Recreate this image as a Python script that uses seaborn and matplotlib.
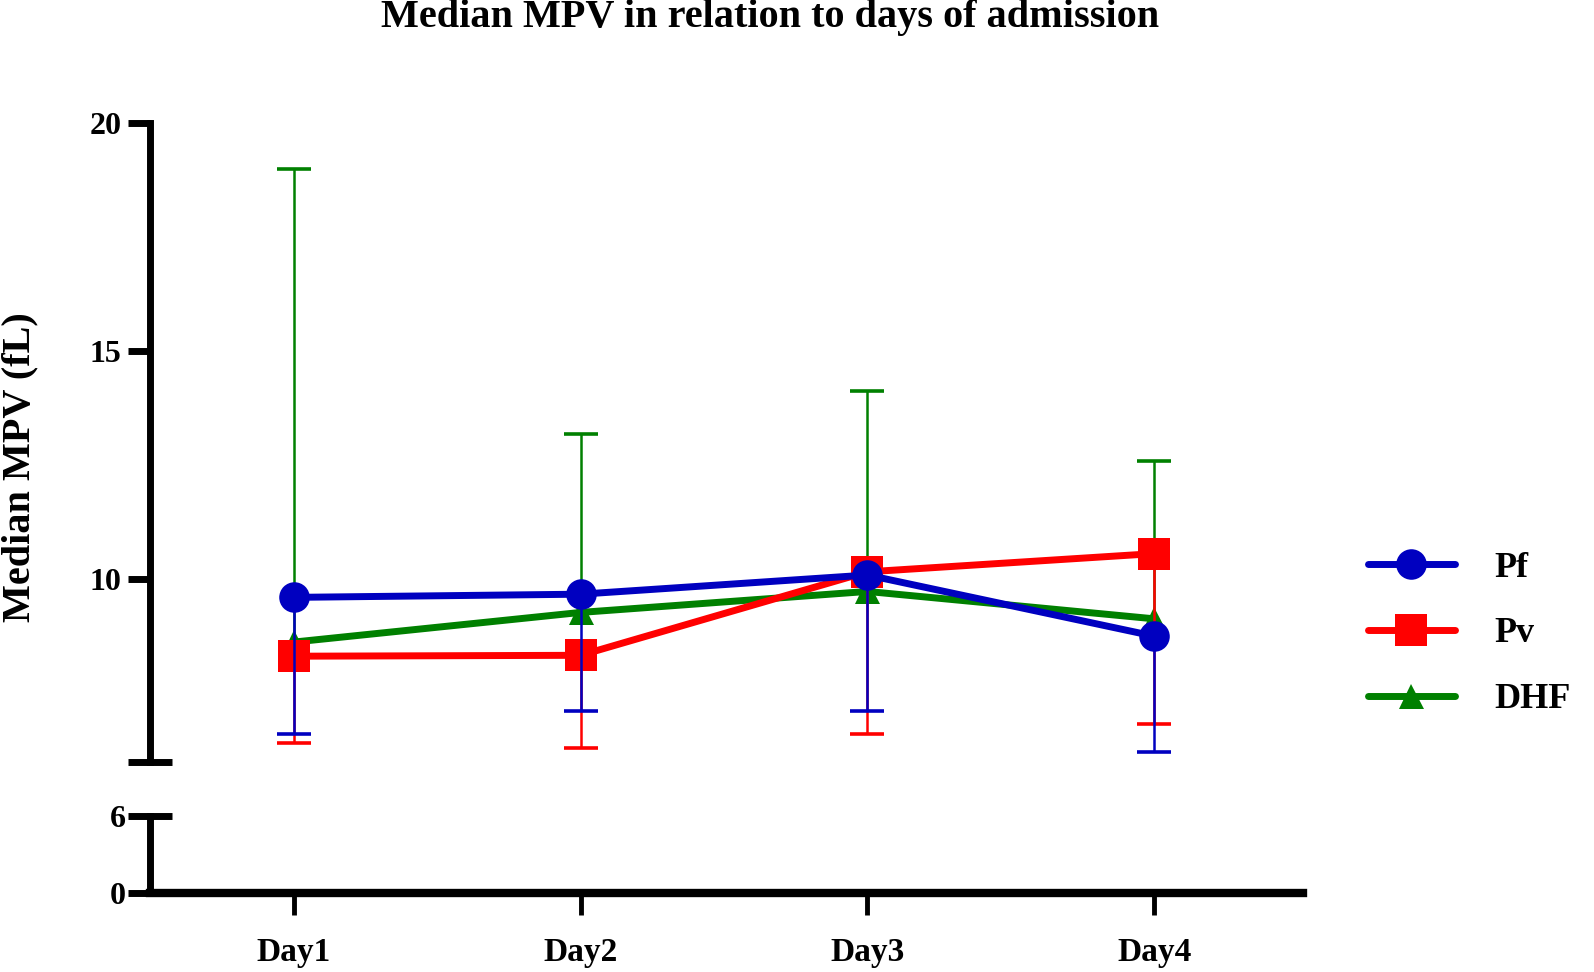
import matplotlib
matplotlib.use("Agg")
import numpy as np
import pandas as pd
import matplotlib.pyplot as plt
import seaborn as sns

# values (median MPV, fL)
days = ["Day1", "Day2", "Day3", "Day4"]
groups = ["Pf", "Pv", "DHF"]

pf_median = [9.60, 9.67, 10.09, 8.75]
pv_median = [8.31, 8.33, 10.16, 10.56]
dhf_median = [8.62, 9.27, 9.73, 9.13]

# one-sided error bars (Pf, Pv go down, DHF goes up)
pf_low = [6.61, 7.10, 7.10, 6.21]
pv_low = [6.41, 6.30, 6.61, 6.82]
dhf_high = [19.0, 13.18, 14.12, 12.58]

colors = {"Pf": "#0000C0", "Pv": "#FF0000", "DHF": "#008000"}
markers = {"Pf": "o", "Pv": "s", "DHF": "^"}
msizes = {"Pf": 22, "Pv": 23, "DHF": 18}

medians = {"Pf": pf_median, "Pv": pv_median, "DHF": dhf_median}
bar_ends = {"Pf": pf_low, "Pv": pv_low, "DHF": dhf_high}

rows = []
for g in groups:
    for i, d in enumerate(days):
        rows.append({"group": g, "day": d, "x": i, "median": medians[g][i], "end": bar_ends[g][i]})
df = pd.DataFrame(rows)

sns.set_style("white")
plt.rcParams["font.family"] = ["Liberation Serif", "DejaVu Serif"]
plt.rcParams["font.weight"] = "bold"
plt.rcParams["text.color"] = "black"
plt.rcParams["axes.edgecolor"] = "black"
plt.rcParams["xtick.color"] = "black"
plt.rcParams["ytick.color"] = "black"

fig = plt.figure(figsize=(15.94, 9.72), dpi=100)
ax = fig.add_axes([0.0944, 0.2165, 0.7232, 0.6569])
ax_lo = fig.add_axes([0.0944, 0.0816, 0.7232, 0.0784])

# draw DHF first, Pf last (on top)
z = 2
for g in ["DHF", "Pv", "Pf"]:
    sub = df[df["group"] == g]
    lo = np.minimum(sub["median"], sub["end"])
    hi = np.maximum(sub["median"], sub["end"])
    ax.vlines(sub["x"], lo, hi, color=colors[g], linewidth=1.8, zorder=z)
    ax.plot(sub["x"], sub["end"], ls="none", marker="_", markersize=24,
            markeredgewidth=2.6, color=colors[g], zorder=z)
    sns.lineplot(data=sub, x="x", y="median", color=colors[g], marker=markers[g],
                 markersize=msizes[g], markeredgewidth=0, linewidth=5,
                 label=g, ax=ax, zorder=z + 1)
    z += 2

xlim = (-0.5, 3.52)
for a in (ax, ax_lo):
    a.set_xlim(*xlim)
    a.spines["top"].set_visible(False)
    a.spines["right"].set_visible(False)
    a.spines["left"].set_linewidth(5)
    a.spines["left"].set_color("black")
    a.set_xlabel("")
    a.set_ylabel("")

# upper part of broken axis
ax.set_ylim(6, 20)
ax.spines["bottom"].set_visible(False)
ax.tick_params(axis="x", bottom=False, labelbottom=False)
ax.set_yticks([10, 15, 20])
ax.set_yticks([6], minor=True)
ax.tick_params(axis="y", which="major", left=True, direction="out", length=16, width=5,
               labelsize=23, pad=5, colors="black")
ax.tick_params(axis="y", which="minor", left=True, direction="inout", length=31, width=5,
               colors="black")
ax.set_yticklabels(["10", "15", "20"], fontweight="bold")

# lower part of broken axis
ax_lo.set_ylim(0, 6)
ax_lo.spines["bottom"].set_linewidth(6)
ax_lo.spines["bottom"].set_color("black")
ax_lo.set_yticks([0, 6])
ax_lo.set_yticklabels(["0", "6"], fontweight="bold")
ax_lo.tick_params(axis="y", left=True, direction="inout", length=31, width=5,
                  labelsize=23, pad=2, colors="black")
ax_lo.set_xticks(range(len(days)))
ax_lo.set_xticklabels(days, fontweight="bold")
ax_lo.tick_params(axis="x", bottom=True, direction="out", length=16, width=3.5,
                  labelsize=24, pad=16, colors="black")

fig.text(0.483, 0.982, "Median MPV in relation to days of admission",
         ha="center", va="center", fontsize=29, fontweight="bold")
fig.text(0.0125, 0.519, "Median MPV (fL)", rotation=90, ha="center", va="center",
         fontsize=29, fontweight="bold")

handles, labels = ax.get_legend_handles_labels()
order = [labels.index(g) for g in groups]
ax.legend([handles[i] for i in order], [labels[i] for i in order],
          loc="center left", bbox_to_anchor=(1.028, 0.2), frameon=False,
          handlelength=2.4, handletextpad=1.1, labelspacing=0.9,
          prop={"weight": "bold", "size": 26})

fig.savefig("out.png", dpi=100)
